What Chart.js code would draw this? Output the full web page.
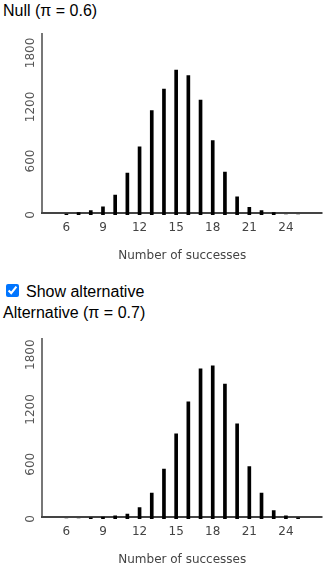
<!DOCTYPE html>
<html>
<head>
<meta charset="utf-8">
<title>Binomial sampling distributions</title>
<script src="https://cdn.jsdelivr.net/npm/chart.js@4.4.1/dist/chart.umd.min.js"></script>
<style>
  html, body { margin: 0; padding: 0; background: #fff; width: 327px; height: 567px; overflow: hidden;
    font-family: Arial, "Liberation Sans", sans-serif; font-size: 16px; color: #000; }
  .heading { position: absolute; left: 3px; white-space: nowrap; line-height: 18px; }
  #nullTitle { top: 2px; }
  #altTitle { top: 304px; }
  #toggle { position: absolute; left: 6px; top: 284px; width: 13px; height: 13px; margin: 0; }
  #toggleText { position: absolute; left: 26px; top: 283px; line-height: 18px; white-space: nowrap; }
  canvas { position: absolute; left: 0; }
  #nullChart { top: 25px; }
  #altChart { top: 330px; }
</style>
</head>
<body>
<div class="heading" id="nullTitle">Null (π = 0.6)</div>
<canvas id="nullChart" width="327" height="245"></canvas>
<input type="checkbox" id="toggle" checked>
<label for="toggle" id="toggleText">Show alternative</label>
<div id="altBlock">
  <div class="heading" id="altTitle">Alternative (π = 0.7)</div>
  <canvas id="altChart" width="327" height="237"></canvas>
</div>
<script>
// Number of successes out of 25 trials, counted over 10,000 simulated samples
const successes = [6, 7, 8, 9, 10, 11, 12, 13, 14, 15, 16, 17, 18, 19, 20, 21, 22, 23, 24, 25];
const nullCounts = [11, 26, 48, 92, 222, 467, 756, 1159, 1400, 1611, 1548, 1278, 826, 478, 203, 86, 48, 26, 0, 0];
const altCounts = [0, 0, 14, 20, 36, 55, 124, 285, 548, 934, 1285, 1646, 1679, 1479, 1044, 573, 285, 91, 36, 14];
const xTicks = [6, 9, 12, 15, 18, 21, 24];
const yTicks = [0, 600, 1200, 1800];

const tickFont = { family: '"DejaVu Sans", Verdana, sans-serif', size: 12 };

// Axis lines plus the vertical (rotated) count labels on the left
const axisDecor = {
  id: 'axisDecor',
  beforeDatasetsDraw(chart) {
    const { ctx, chartArea: a, scales: { y } } = chart;
    const lineY = a.bottom - 2;
    ctx.save();
    ctx.lineWidth = 2;
    ctx.strokeStyle = '#777';
    ctx.beginPath(); ctx.moveTo(a.left, a.top); ctx.lineTo(a.left, lineY); ctx.stroke();
    ctx.strokeStyle = '#444';
    ctx.beginPath(); ctx.moveTo(a.left - 1, lineY); ctx.lineTo(a.right, lineY); ctx.stroke();

    ctx.fillStyle = '#555';
    ctx.font = tickFont.size + 'px ' + tickFont.family;
    ctx.textAlign = 'center';
    ctx.textBaseline = 'middle';
    yTicks.forEach(v => {
      const py = y.getPixelForValue(v);
      ctx.save();
      ctx.translate(a.left - 11.5, py);
      ctx.rotate(-Math.PI / 2);
      ctx.fillText(String(v), 0, 0);
      ctx.restore();
    });
    ctx.restore();
  }
};

function makeChart(id, counts, yMax, xAxisHeight, titlePad) {
  return new Chart(document.getElementById(id), {
    type: 'bar',
    data: {
      datasets: [{
        data: successes.map((s, i) => ({ x: s, y: counts[i] })),
        backgroundColor: '#000',
        borderWidth: 0,
        barThickness: 3
      }]
    },
    options: {
      responsive: false,
      animation: false,
      devicePixelRatio: 1,
      layout: { padding: { top: 8, right: 4.5, left: 0, bottom: 0 } },
      plugins: { legend: { display: false }, tooltip: { enabled: false } },
      scales: {
        x: {
          type: 'linear',
          offset: false,
          min: 4,
          max: 27,
          grid: { display: false, drawTicks: false, offset: false },
          border: { display: false },
          ticks: { color: '#444', font: tickFont, padding: 6, maxRotation: 0 },
          afterBuildTicks: s => { s.ticks = xTicks.map(v => ({ value: v })); },
          afterFit: s => { s.height = xAxisHeight; },
          title: { display: true, text: 'Number of successes', color: '#444', font: tickFont,
                   padding: { top: 0, bottom: titlePad } }
        },
        y: {
          min: 0,
          max: yMax,
          grid: { display: false },
          border: { display: false },
          ticks: { display: false },
          afterBuildTicks: s => { s.ticks = yTicks.map(v => ({ value: v })); },
          afterFit: s => { s.width = 42; }
        }
      }
    },
    plugins: [axisDecor]
  });
}

makeChart('nullChart', nullCounts, 2022, 55, 7);
makeChart('altChart', altCounts, 1983, 48, 0);

document.getElementById('toggle').addEventListener('change', e => {
  document.getElementById('altBlock').style.display = e.target.checked ? '' : 'none';
});
</script>
</body>
</html>
